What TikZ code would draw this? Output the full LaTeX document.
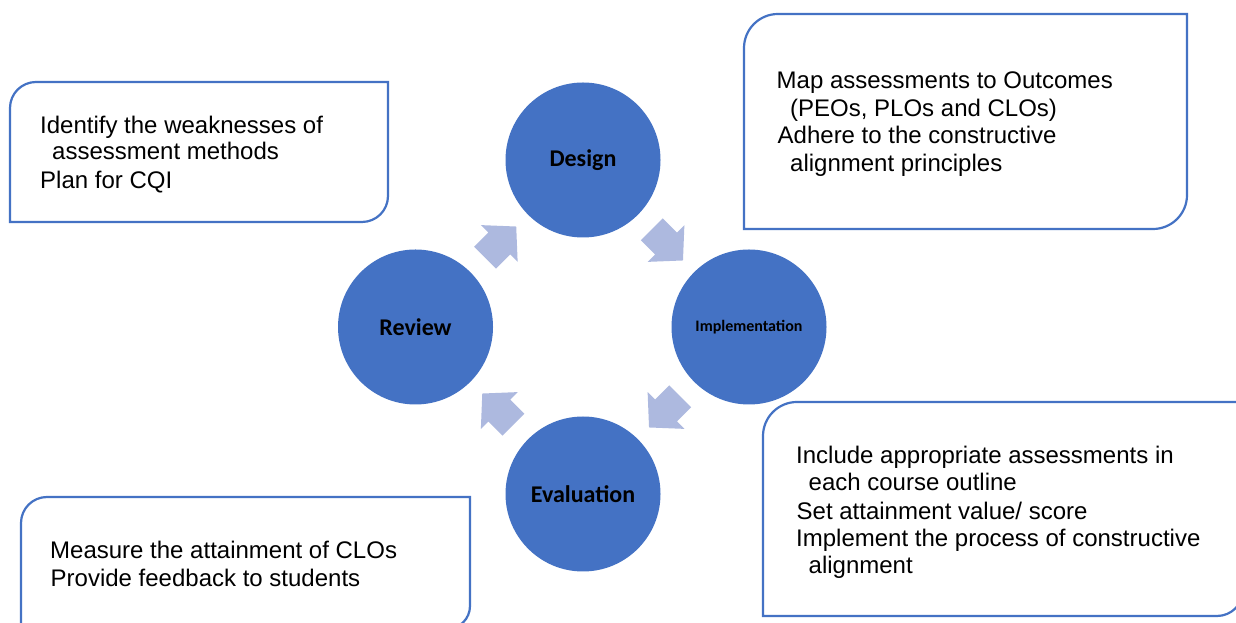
\documentclass[tikz,border=0pt]{standalone}
\usepackage{fontspec}
\setmainfont{Liberation Sans}
\newfontfamily\labelfont{Carlito}
\usetikzlibrary{calc}
\definecolor{circblue}{HTML}{4472C4}
\definecolor{arrowblue}{HTML}{ADB9DF}
\tikzset{
  x=1pt, y=1pt,
  circ/.style={circle, fill=circblue, draw=none, minimum size=155pt, inner sep=0pt,
    font=\labelfont\bfseries\fontsize{24}{28}\selectfont, text=black},
  smallcirc/.style={circ, font=\labelfont\bfseries\fontsize{16}{19}\selectfont},
  boxline/.style={draw=circblue, line width=2.2pt, fill=white},
  line/.style={anchor=base west, inner sep=0pt, font=\fontsize{24}{28}\selectfont, text=black},
  arrowshape/.style={fill=arrowblue, draw=none}
}
\newcommand{\blockarrow}[2]{%
  \path[arrowshape, shift={#1}, rotate=#2]
    (-20,-15.5) -- (0,-15.5) -- (0,-26) -- (24,0) -- (0,26) -- (0,15.5) -- (-20,15.5) -- cycle;}
\begin{document}
\begin{tikzpicture}
\useasboundingbox (0,0) rectangle (1236,623);
\fill[white] (0,0) rectangle (1236,623);

% boxes (rounded top-left and bottom-right corners)
\draw[boxline] (10,401) -- (10,515) arc(180:90:26) -- (388,541) -- (388,427) arc(0:-90:26) -- cycle;
\draw[boxline] (744,394) -- (744,575) arc(180:90:34) -- (1187,609) -- (1187,428) arc(0:-90:34) -- cycle;
\draw[boxline] (763,7) -- (763,187) arc(180:90:34) -- (1243,221) -- (1243,33) arc(0:-90:26) -- cycle;
\draw[boxline] (21,-6) -- (21,100) arc(180:90:26) -- (470,126) -- (470,17) arc(0:-90:23) -- cycle;

% circles
\node[circ] (des) at (583,463) {Design};
\node[smallcirc] (imp) at (749,296) {Implementation};
\node[circ] (eva) at (583,129) {Evaluation};
\node[circ] (rev) at (415.5,296) {Review};

% block arrows
\blockarrow{($(rev)!0.5!(des)$)}{45}
\blockarrow{($(des)!0.5!(imp)$)}{-45}
\blockarrow{($(imp)!0.5!(eva)$)}{-135}
\blockarrow{($(eva)!0.5!(rev)$)}{135}

% texts: top-left box
\node[line] (a1) at (40,489.7) {Identify the weaknesses of};
\node[line] (a2) at (52,463) {assessment methods};
\node[line] (a3) at (40,434.7) {Plan for CQI};

% top-right box
\node[line] (b1) at (776.5,534) {Map assessments to Outcomes};
\node[line] (b2) at (790,506.5) {(PEOs, PLOs and CLOs)};
\node[line] (b3) at (777.5,479) {Adhere to the constructive};
\node[line] (b4) at (790,451.5) {alignment principles};

% bottom-right box
\node[line] (c1) at (796,159) {Include appropriate assessments in};
\node[line] (c2) at (808.5,132.3) {each course outline};
\node[line] (c3) at (796.5,103.7) {Set attainment value/ score};
\node[line] (c4) at (796,76.3) {Implement the process of constructive};
\node[line] (c5) at (808.5,49.7) {alignment};

% bottom-left box
\node[line] (d1) at (50,64.7) {Measure the attainment of CLOs};
\node[line] (d2) at (50.5,36.3) {Provide feedback to students};
\end{tikzpicture}
\end{document}
